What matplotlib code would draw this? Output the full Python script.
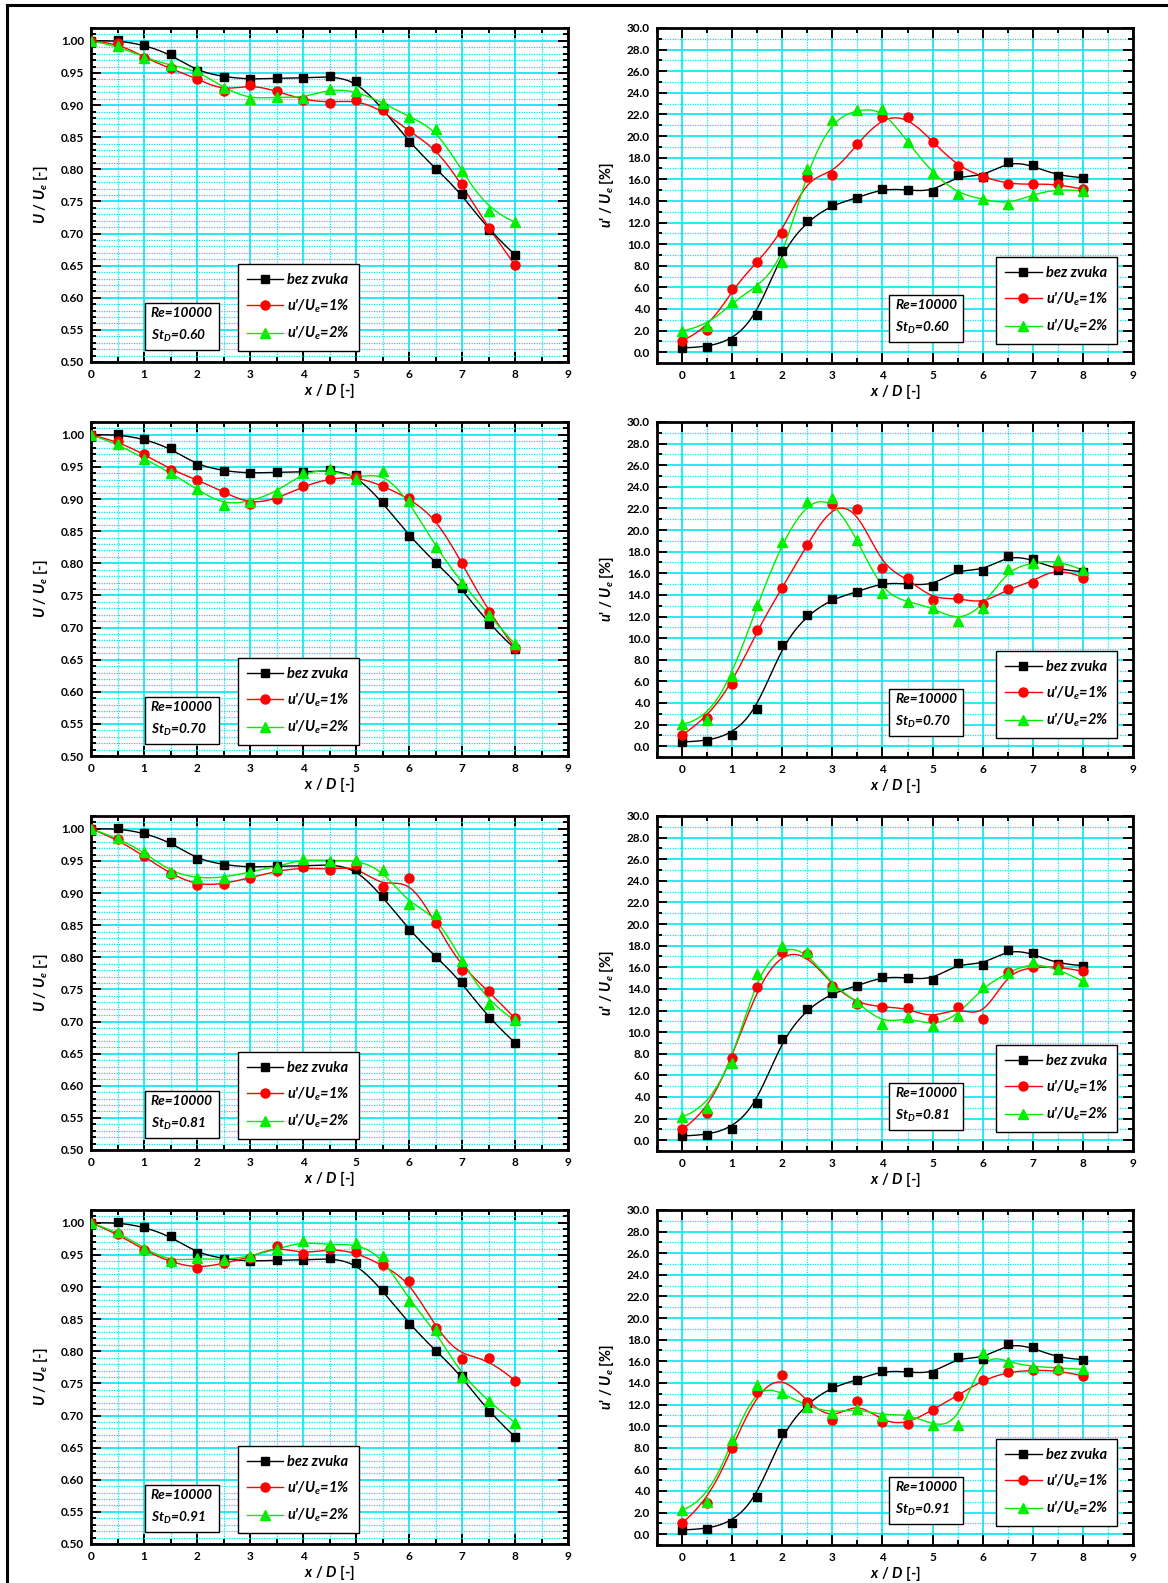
import numpy as np
import matplotlib
matplotlib.use("Agg")
import matplotlib.pyplot as plt
from matplotlib.ticker import MultipleLocator, FormatStrFormatter
from matplotlib.lines import Line2D

plt.rcParams['font.family'] = ['Lato', 'DejaVu Sans']
plt.rcParams['mathtext.fontset'] = 'custom'
plt.rcParams['mathtext.it'] = 'Lato:italic:bold'
plt.rcParams['mathtext.rm'] = 'Lato:bold'
plt.rcParams['mathtext.bf'] = 'Lato:bold'

# ---- data -------------------------------------------------------------
x_d = [0, 0.5, 1, 1.5, 2, 2.5, 3, 3.5, 4, 4.5, 5, 5.5, 6, 6.5, 7, 7.5, 8]
st_labels = ["0.60", "0.70", "0.81", "0.91"]

# mean velocity U/Ue, reference case without sound
u_bez = [1.000, 1.001, 0.994, 0.979, 0.953, 0.944, 0.940, 0.942, 0.942, 0.945,
         0.938, 0.895, 0.843, 0.801, 0.762, 0.705, 0.667]
# mean velocity, forcing u'/Ue = 1 %
u_1_060 = [1.000, 0.997, 0.974, 0.957, 0.941, 0.922, 0.932, 0.922, 0.908, 0.904,
           0.908, 0.892, 0.859, 0.833, 0.777, 0.708, 0.651]
u_1_070 = [1.000, 0.990, 0.970, 0.946, 0.930, 0.911, 0.892, 0.900, 0.920, 0.932,
           0.935, 0.921, 0.901, 0.871, 0.801, 0.724, 0.668]
u_1_081 = [1.000, 0.984, 0.957, 0.930, 0.912, 0.914, 0.924, 0.934, 0.940, 0.936,
           0.943, 0.909, 0.923, 0.854, 0.781, 0.748, 0.705]
u_1_091 = [1.000, 0.983, 0.957, 0.939, 0.929, 0.937, 0.946, 0.964, 0.951, 0.960,
           0.954, 0.934, 0.910, 0.837, 0.788, 0.790, 0.754]
# mean velocity, forcing u'/Ue = 2 %
u_2_060 = [1.000, 0.992, 0.974, 0.962, 0.954, 0.927, 0.909, 0.913, 0.911, 0.925,
           0.922, 0.904, 0.882, 0.863, 0.798, 0.735, 0.718]
u_2_070 = [1.000, 0.986, 0.963, 0.941, 0.915, 0.891, 0.896, 0.911, 0.941, 0.947,
           0.931, 0.943, 0.897, 0.826, 0.769, 0.720, 0.674]
u_2_081 = [1.000, 0.986, 0.964, 0.933, 0.923, 0.924, 0.933, 0.941, 0.953, 0.950,
           0.952, 0.936, 0.883, 0.867, 0.794, 0.728, 0.702]
u_2_091 = [1.000, 0.986, 0.960, 0.940, 0.945, 0.942, 0.948, 0.959, 0.971, 0.965,
           0.968, 0.948, 0.879, 0.833, 0.760, 0.722, 0.689]

# turbulence intensity u'/Ue [%], reference case without sound
t_bez = [0.40, 0.46, 1.02, 3.45, 9.40, 12.15, 13.63, 14.28, 15.14, 15.02,
         14.83, 16.37, 16.22, 17.64, 17.33, 16.28, 16.16]
# turbulence intensity, forcing u'/Ue = 1 %
t_1_060 = [1.08, 2.04, 5.86, 8.33, 11.07, 16.25, 16.44, 19.30, 21.77, 21.80,
           19.49, 17.21, 16.22, 15.57, 15.54, 15.57, 15.08]
t_1_070 = [1.02, 2.60, 5.74, 10.76, 14.68, 18.66, 22.42, 21.95, 16.53, 15.54,
           13.57, 13.75, 13.14, 14.59, 15.14, 16.65, 15.60]
t_1_081 = [1.02, 2.56, 7.62, 14.15, 17.42, 17.21, 14.28, 12.64, 12.33, 12.21,
           11.25, 12.37, 11.22, 15.57, 16.00, 16.10, 15.63]
t_1_091 = [1.05, 2.90, 7.99, 13.17, 14.74, 12.24, 10.55, 12.30, 10.36, 10.18,
           11.53, 12.83, 14.25, 15.02, 15.17, 15.17, 14.65]
# turbulence intensity, forcing u'/Ue = 2 %
t_2_060 = [1.97, 2.41, 4.66, 6.04, 8.39, 16.96, 21.52, 22.45, 22.54, 19.46,
           16.56, 14.68, 14.15, 13.69, 14.59, 15.14, 14.92]
t_2_070 = [2.03, 2.47, 6.48, 13.04, 18.90, 22.63, 22.94, 19.12, 14.18, 13.35,
           12.83, 11.56, 12.83, 16.37, 16.99, 17.27, 16.28]
t_2_081 = [2.16, 2.99, 7.15, 15.36, 18.01, 17.45, 14.31, 12.83, 10.73, 11.41,
           10.55, 11.50, 14.18, 15.48, 16.53, 15.85, 14.71]
t_2_091 = [2.25, 3.02, 8.70, 13.81, 13.10, 11.81, 11.22, 11.62, 10.98, 11.16,
           10.08, 10.08, 16.81, 15.94, 15.48, 15.39, 15.26]

u_1 = [u_1_060, u_1_070, u_1_081, u_1_091]
u_2 = [u_2_060, u_2_070, u_2_081, u_2_091]
t_1 = [t_1_060, t_1_070, t_1_081, t_1_091]
t_2 = [t_2_060, t_2_070, t_2_081, t_2_091]

series_names = ["bez zvuka", "u'/U$_e$=1%", "u'/U$_e$=2%"]
colors = ["black", "#ff0000", "#00ee00"]
markers = ["s", "o", "^"]
msizes = [6, 6.5, 7]


def bspline(x, y, n=500):
    """Clamped uniform cubic B-spline using the points as control polygon."""
    P = np.column_stack([x, y]).astype(float)
    k = 3
    m = len(P)
    knots = np.concatenate([[0.0] * k, np.arange(m - k + 1, dtype=float),
                            [float(m - k)] * k])
    t = np.linspace(0, m - k, n)
    t[-1] -= 1e-9
    B = np.zeros((n, len(knots) - 1))
    for i in range(len(knots) - 1):
        B[:, i] = (t >= knots[i]) & (t < knots[i + 1])
    for d in range(1, k + 1):
        Bn = np.zeros((n, len(knots) - 1 - d))
        for i in range(len(knots) - 1 - d):
            a = knots[i + d] - knots[i]
            b = knots[i + d + 1] - knots[i + 1]
            term = np.zeros(n)
            if a > 0:
                term += (t - knots[i]) / a * B[:, i]
            if b > 0:
                term += (knots[i + d + 1] - t) / b * B[:, i + 1]
            Bn[:, i] = term
        B = Bn
    C = B @ P
    return C[:, 0], C[:, 1]


def style_axes(ax, xlim, ylim, ymaj, ymin, yfmt):
    ax.set_xlim(*xlim)
    ax.set_ylim(*ylim)
    ax.xaxis.set_major_locator(MultipleLocator(1))
    ax.xaxis.set_minor_locator(MultipleLocator(0.5))
    ax.yaxis.set_major_locator(MultipleLocator(ymaj))
    ax.yaxis.set_minor_locator(MultipleLocator(ymin))
    ax.yaxis.set_major_formatter(FormatStrFormatter(yfmt))
    ax.xaxis.set_major_formatter(FormatStrFormatter('%d'))
    ax.grid(which='major', color='#00e8f0', lw=1.2, ls='-', zorder=0)
    ax.grid(which='minor', color='#00e8f0', lw=0.9, ls=(0, (1, 1)), zorder=0)
    ax.set_axisbelow(True)
    ax.tick_params(which='both', direction='in', top=True, right=True,
                   width=1.4, color='black')
    ax.tick_params(which='major', length=7, labelsize=8.5, pad=5)
    ax.tick_params(which='minor', length=3.5)
    for lab in ax.get_xticklabels() + ax.get_yticklabels():
        lab.set_fontweight('bold')
    for sp in ax.spines.values():
        sp.set_linewidth(2.0)
    ax.set_xlabel(r"$x$ / $D$ [-]", fontsize=10.5, fontweight='bold',
                  labelpad=1)


def draw_series(ax, ys_list):
    handles = []
    for ys, c, mk, ms, nm in zip(ys_list, colors, markers, msizes, series_names):
        xs, yy = bspline(x_d, ys)
        ax.plot(xs, yy, color=c, lw=1.0, zorder=3)
        ax.plot(x_d, ys, ls='none', marker=mk, ms=ms, color=c,
                markeredgecolor=c, zorder=4)
        handles.append(Line2D([], [], color=c, lw=1.0, marker=mk, ms=ms,
                              markeredgecolor=c, label=nm))
    return handles


def add_legend(ax, handles, anchor):
    leg = ax.legend(handles=handles, loc='lower left', bbox_to_anchor=anchor,
                    frameon=True, fancybox=False, framealpha=1,
                    edgecolor='black', handlelength=2.5, handletextpad=0.3,
                    labelspacing=0.7, borderpad=0.6, borderaxespad=0,
                    prop=dict(weight='bold', style='italic', size=10.5))
    leg.get_frame().set_linewidth(1.0)
    leg.set_zorder(10)


def add_info(ax, st, pos):
    ax.text(pos[0], pos[1], "Re=10000\nSt$_D$=" + st, transform=ax.transAxes,
            ha='left', va='bottom', fontsize=9.8, fontweight='bold',
            style='italic', linespacing=1.7, zorder=10,
            bbox=dict(boxstyle='square,pad=0.45', fc='white', ec='black',
                      lw=1.0))


W, H = 1168, 1583
fig = plt.figure(figsize=(W / 100, H / 100), dpi=100)

row_tops = [28, 422, 816, 1210]
for r in range(4):
    top = row_tops[r]
    # left: mean velocity
    axL = fig.add_axes([91 / W, 1 - (top + 334) / H, 477 / W, 334 / H])
    style_axes(axL, (0, 9), (0.5, 1.02), 0.05, 0.01, '%.2f')
    axL.set_ylabel(r"$U$ / $U_e$ [-]", fontsize=10.5, fontweight='bold',
                   labelpad=8)
    hL = draw_series(axL, [u_bez, u_1[r], u_2[r]])
    add_legend(axL, hL, (0.308, 0.033))
    add_info(axL, st_labels[r], (0.125, 0.055))

    # right: turbulence intensity
    axR = fig.add_axes([657 / W, 1 - (top + 335) / H, 476 / W, 335 / H])
    style_axes(axR, (-0.5, 9), (-1, 30), 2, 1, '%.1f')
    axR.set_ylabel(r"$u$' / $U_e$ [%]", fontsize=10.5, fontweight='bold',
                   labelpad=8)
    hR = draw_series(axR, [t_bez, t_1[r], t_2[r]])
    add_legend(axR, hR, (0.713, 0.057))
    add_info(axR, st_labels[r], (0.5, 0.082))

# outer frame lines along the top and left edges
fig.add_artist(Line2D([7 / W, 7 / W], [0, 1 - 5 / H], color='black', lw=2.2,
                      transform=fig.transFigure))
fig.add_artist(Line2D([7 / W, 1], [1 - 5 / H, 1 - 5 / H], color='black', lw=2.2,
                      transform=fig.transFigure))

fig.savefig("out.png", dpi=100, facecolor='white')
